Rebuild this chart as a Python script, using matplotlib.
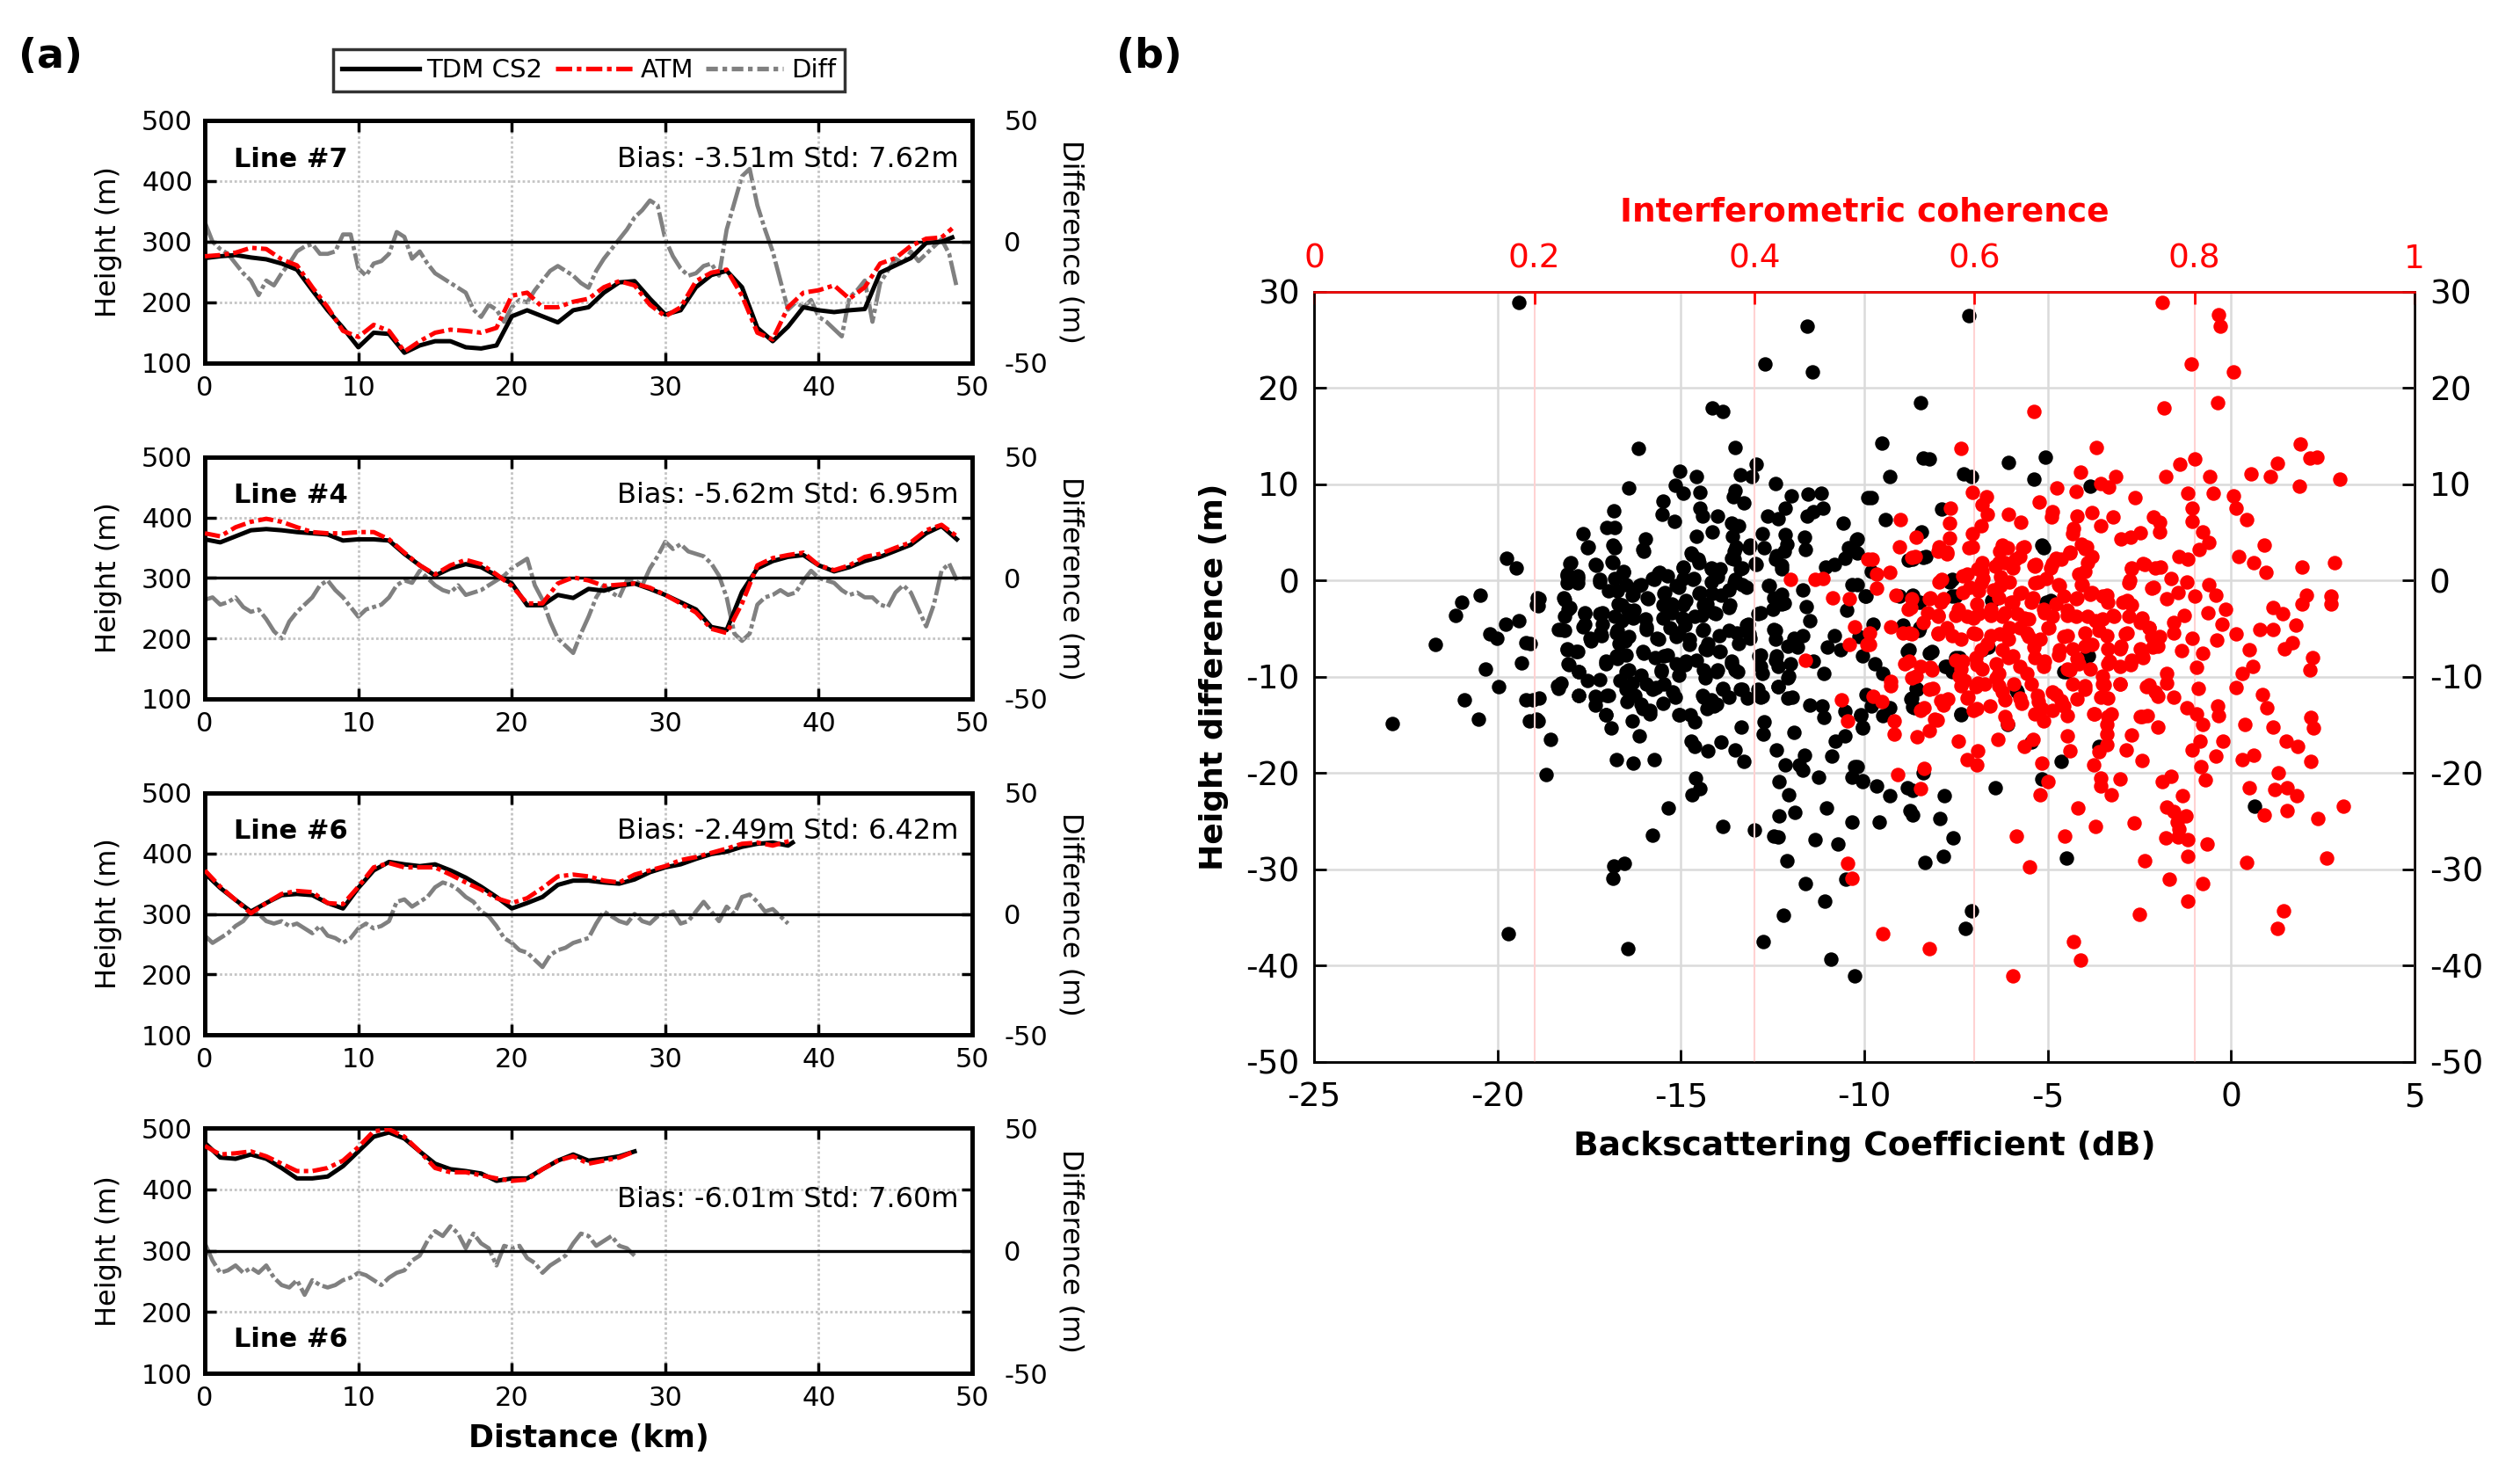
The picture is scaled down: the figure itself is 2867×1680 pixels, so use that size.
import matplotlib
matplotlib.use('Agg')
import matplotlib.pyplot as plt
from matplotlib.lines import Line2D

plt.rcParams['font.family'] = ['DejaVu Sans']
plt.rcParams['axes.unicode_minus'] = False

# ---------------- Panel (a) data ----------------
dist_ticks = [0, 10, 20, 30, 40, 50]
height_ticks = [100, 200, 300, 400, 500]
diff_ticks = [-50, 0, 50]
line_names = ['Line #7', 'Line #4', 'Line #6', 'Line #6']
stat_texts = ['Bias: -3.51m Std: 7.62m', 'Bias: -5.62m Std: 6.95m',
              'Bias: -2.49m Std: 6.42m', 'Bias: -6.01m Std: 7.60m']

# Line #7
h7_dist = list(range(49)) + [48.7]
h7_tdm = [273, 276, 278, 274, 271, 264, 254, 220, 187, 158, 126, 150, 148, 117, 129, 136, 136, 126, 124, 129,
          177, 187, 177, 167, 187, 192, 216, 233, 235, 206, 180, 187, 225, 245, 252, 225, 158, 136, 160, 192,
          187, 184, 187, 189, 249, 261, 273, 298, 300, 307]
h7_atm = [276, 278, 282, 290, 288, 271, 261, 225, 192, 153, 143, 163, 153, 119, 136, 150, 155, 153, 150, 158,
          211, 216, 192, 192, 201, 206, 225, 235, 228, 196, 177, 192, 235, 249, 254, 211, 150, 139, 192, 216,
          220, 228, 206, 225, 264, 273, 293, 305, 307, 322]
d7_dist = [i * 0.5 for i in range(99)]
d7_diff = [8, 0, -3, -5, -9, -13, -16, -22, -16, -18, -13, -9, -4, -2, -1, -5, -5, -4, 3, 3,
           -11, -14, -9, -8, -5, 4, 2, -7, -4, -9, -13, -15, -17, -19, -21, -28, -31, -26, -28, -33,
           -27, -24, -25, -20, -16, -12, -10, -12, -14, -17, -19, -12, -7, -3, 1, 5, 10, 13, 17, 15,
           1, -6, -11, -14, -13, -10, -9, -14, 5, 16, 27, 30, 15, 5, -4, -16, -28, -25, -27, -24,
           -31, -33, -36, -39, -23, -20, -16, -33, -17, -12, -7, -9, -4, -8, -5, -2, 1, -5, -19]

# Line #4
h4_dist = list(range(50))
h4_tdm = [364, 359, 369, 379, 381, 379, 376, 374, 372, 362, 364, 364, 362, 340, 321, 304, 316, 323, 318, 304,
          291, 255, 255, 272, 267, 282, 279, 287, 291, 282, 272, 260, 248, 219, 214, 277, 316, 328, 335, 338,
          321, 311, 318, 328, 335, 345, 355, 374, 386, 364]
h4_atm = [374, 369, 384, 393, 398, 393, 384, 376, 374, 374, 376, 376, 364, 342, 321, 306, 321, 330, 323, 306,
          287, 258, 258, 291, 301, 296, 287, 289, 291, 284, 272, 258, 243, 216, 209, 258, 321, 333, 338, 342,
          321, 313, 321, 335, 340, 350, 359, 379, 388, 369]
d4_dist = [i * 0.5 for i in range(99)]
d4_diff = [-9, -8, -11, -10, -8, -12, -14, -13, -17, -22, -25, -18, -14, -11, -8, -3, -1, -5, -8, -12,
           -16, -13, -12, -11, -8, -3, -1, -2, 3, 0, -3, -5, -6, -3, -7, -6, -5, -3, -1, 1,
           4, 6, 8, -3, -9, -18, -25, -28, -31, -23, -16, -8, -3, -6, -8, -1, -1, -3, 4, 9,
           15, 12, 14, 11, 10, 9, 6, 1, -8, -23, -26, -23, -11, -8, -7, -5, -7, -6, -1, 3,
           0, -1, -2, -5, -7, -6, -8, -8, -11, -12, -6, -3, -6, -13, -20, -11, 3, 6, -1]

# Line #6 (third panel)
h6_dist = list(range(39)) + [38.3]
h6_tdm = [367, 343, 323, 304, 318, 331, 333, 331, 318, 309, 343, 372, 386, 382, 379, 382, 372, 360, 345, 328,
          309, 318, 328, 348, 355, 355, 352, 350, 357, 369, 377, 382, 391, 399, 403, 411, 416, 418, 413, 418]
h6_atm = [372, 345, 323, 301, 318, 333, 338, 336, 318, 316, 345, 377, 384, 377, 377, 377, 365, 352, 340, 326,
          318, 326, 343, 362, 365, 362, 355, 352, 365, 372, 379, 389, 394, 401, 408, 416, 418, 413, 420, 422]
d6_dist = [i * 0.5 for i in range(77)]
d6_diff = [-9, -12, -10, -8, -5, -3, 1, 0, -3, -4, -3, -5, -4, -6, -8, -5, -9, -10, -12, -10,
           -6, -4, -6, -5, -3, 5, 6, 3, 5, 7, 11, 13, 12, 10, 7, 5, 1, -1, -5, -10,
           -12, -15, -16, -19, -22, -17, -15, -14, -12, -11, -10, -4, 1, -1, -3, -4, 0, -3, -4, -1,
           0, 1, -4, -3, 1, 5, 1, -3, 3, 0, 7, 8, 5, 1, 2, -1, -4]

# Line #6 (fourth panel)
h6b_dist = list(range(29))
h6b_tdm = [476, 452, 450, 457, 450, 435, 418, 418, 421, 438, 462, 486, 493, 483, 462, 442, 433, 430, 426, 414,
           418, 418, 433, 447, 457, 447, 450, 454, 462]
h6b_atm = [471, 457, 459, 462, 454, 442, 430, 430, 435, 447, 469, 495, 498, 486, 462, 435, 428, 428, 423, 418,
           414, 416, 433, 447, 454, 442, 447, 452, 462]
d6b_dist = [i * 0.5 for i in range(57)]
d6b_diff = [3, -4, -9, -8, -6, -9, -7, -9, -6, -11, -14, -15, -12, -18, -12, -14, -15, -14, -12, -11,
            -9, -10, -12, -14, -11, -9, -8, -4, -2, 4, 8, 6, 10, 7, 1, 7, 3, 1, -6, 2,
            1, 2, -3, -5, -9, -6, -4, -2, 3, 7, 6, 2, 4, 6, 2, 1, -2]

# ---------------- Panel (b) data ----------------
bs_ticks = [-25, -20, -15, -10, -5, 0, 5]
dh_ticks = [-50, -40, -30, -20, -10, 0, 10, 20, 30]
coh_ticks = [0, 0.2, 0.4, 0.6, 0.8, 1.0]
coh_labels = ['0', '0.2', '0.4', '0.6', '0.8', '1']

# black: (backscattering dB, height difference m)
black_a = [(-19.42, 28.9), (-11.56, 26.4), (-12.72, 22.5), (-11.41, 21.7), (-14.15, 17.9), (-13.86, 17.6),
           (-16.17, 13.7), (-13.52, 13.8), (-12.94, 12.1), (-15.04, 11.4), (-14.57, 10.8), (-13.38, 11.0),
           (-13.07, 10.8), (-12.43, 10.1), (-16.42, 9.6), (-15.15, 9.9), (-14.94, 9.1), (-14.49, 9.2),
           (-13.52, 9.4), (-13.57, 8.7), (-13.28, 8.1), (-12.0, 8.8), (-11.54, 9.0), (-11.17, 9.1),
           (-15.5, 8.3), (-16.83, 7.3), (-15.51, 6.9), (-15.18, 6.2), (-14.49, 7.5), (-14.42, 6.7),
           (-14.0, 6.7), (-13.61, 6.0), (-13.42, 5.7), (-12.63, 6.7), (-12.36, 6.4), (-12.17, 7.5),
           (-11.56, 6.7), (-11.39, 7.2), (-11.12, 7.5), (-10.57, 6.0), (-9.9, 8.6), (-17.68, 4.9),
           (-17.02, 5.5), (-16.81, 5.5), (-17.53, 3.5), (-16.85, 3.7), (-15.97, 4.3), (-16.03, 3.2),
           (-14.58, 4.6), (-14.15, 5.1), (-13.59, 4.6), (-13.49, 3.5), (-13.13, 3.7), (-12.79, 4.9),
           (-12.17, 4.8), (-12.12, 3.8), (-11.63, 4.5), (-11.61, 3.2), (-10.23, 4.2), (-10.43, 3.4),
           (-19.76, 2.3), (-19.49, 1.3), (-18.0, 1.9), (-17.33, 1.7), (-16.89, 2.0), (-18.11, 0.7),
           (-17.82, 0.2), (-17.21, 0.1), (-16.57, 1.0), (-15.6, 0.8), (-14.94, 1.4), (-14.73, 2.9),
           (-14.54, 2.2), (-14.17, 1.3), (-13.62, 2.3), (-13.33, 1.3), (-12.94, 1.7), (-12.41, 2.6),
           (-12.26, 1.6), (-11.05, 1.4), (-10.81, 1.7), (-10.52, 2.3), (-20.48, -1.5), (-20.97, -2.2),
           (-21.14, -3.6), (-21.69, -6.6), (-20.21, -5.5), (-20.02, -6.0), (-19.78, -4.5), (-19.42, -4.2),
           (-19.23, -6.4), (-20.32, -9.2), (-19.35, -8.5), (-18.91, -1.8), (-18.94, -2.5), (-18.21, -1.8),
           (-18.07, -3.0), (-18.26, -5.1), (-17.63, -3.3), (-17.68, -4.8), (-17.15, -3.3), (-17.2, -5.4),
           (-17.49, -6.0), (-18.11, -7.1), (-17.82, -7.4), (-18.07, -8.6), (-17.78, -9.5), (-17.05, -8.4),
           (-16.71, -2.4), (-16.62, -4.2), (-16.76, -5.4), (-16.28, -3.1), (-16.13, -0.5), (-15.92, -1.8),
           (-16.32, -1.5), (-15.94, -4.8), (-16.52, -6.3), (-16.03, -7.4), (-16.76, -7.8), (-16.42, -9.3),
           (-15.74, 0.1), (-15.45, -1.2), (-15.26, -2.4), (-15.5, -3.9), (-15.65, -6.0), (-15.36, -7.7),
           (-15.55, -9.3), (-15.12, -0.5), (-14.87, -2.1), (-14.97, -3.9), (-15.07, -5.4), (-14.78, -6.6),
           (-14.87, -8.4), (-14.68, 0.1), (-14.49, -1.2), (-14.29, -2.4), (-14.44, -3.6), (-14.39, -5.1),
           (-14.29, -7.2), (-14.39, -9.3), (-14.0, 0.4), (-13.91, -1.5), (-14.1, -3.3), (-13.96, -5.7),
           (-13.96, -7.4), (-14.0, -9.3), (-13.52, 0.1), (-13.33, -0.4), (-13.67, -2.5), (-13.47, -5.4),
           (-13.13, -6.0), (-13.62, -8.4), (-13.52, -9.3), (-12.84, -3.3), (-13.17, -4.5), (-12.88, -7.8),
           (-12.79, -9.6), (-12.6, -0.5), (-12.46, -1.8), (-12.26, -2.4), (-12.46, -5.1), (-12.41, -7.8),
           (-12.07, -9.9), (-11.92, -6.0), (-11.82, -6.9), (-11.59, -2.7), (-11.49, -4.2), (-11.68, -5.7),
           (-11.39, -8.4), (-11.1, -9.6), (-11.68, -1.0), (-10.33, -0.4), (-10.48, -3.1), (-10.81, -5.7),
           (-10.66, -7.2), (-11.0, -6.9), (-9.99, -1.6)]
black_b = [(-7.16, 27.5), (-8.47, 18.5), (-9.53, 14.3), (-8.41, 12.7), (-8.24, 12.6), (-9.32, 10.8), (-7.3, 11.1),
           (-7.07, 10.8), (-6.07, 12.3), (-5.07, 12.8), (-5.39, 10.5), (-9.8, 8.6), (-3.85, 9.8), (-7.9, 7.4),
           (-9.43, 6.3), (-8.44, 5.1), (-10.2, 4.3), (-10.2, 2.9), (-5.17, 3.7), (-8.68, 2.2), (-8.32, 2.5),
           (-9.8, 1.0), (-7.61, 0.1), (-10.2, -0.4), (-9.95, -1.6), (-8.68, -1.5), (-8.49, -2.2), (-7.51, -1.6),
           (-6.54, -2.1), (-4.93, -2.1), (-9.76, -4.5), (-8.49, -4.9), (-10.15, -5.8), (-10.05, -7.8),
           (-9.71, -8.6), (-8.78, -7.2), (-8.17, -7.4), (-7.41, -8.0), (-7.76, -8.9), (-6.63, -6.9),
           (-9.51, -9.6), (-4.49, -9.5), (-3.9, -7.8)]
black_c = [(-22.88, -14.8), (-20.91, -12.4), (-20.52, -14.4), (-19.98, -11.0), (-19.23, -12.4), (-19.03, -12.4),
           (-19.13, -14.6), (-18.89, -14.6), (-18.55, -16.5), (-18.68, -20.1), (-18.36, -10.9), (-17.78, -11.9),
           (-17.34, -12.0), (-17.34, -12.9), (-17.02, -11.9), (-17.04, -13.9), (-16.91, -15.3), (-16.76, -18.6),
           (-16.3, -19.0), (-15.73, -18.6), (-16.47, -12.6), (-16.32, -14.6), (-16.13, -16.1), (-16.03, -13.3),
           (-15.84, -13.8), (-15.69, -11.1), (-15.5, -12.7), (-15.16, -12.1), (-15.04, -13.9), (-14.63, -14.7),
           (-14.73, -16.7), (-14.63, -17.2), (-14.27, -17.7), (-13.91, -16.8), (-13.52, -17.6), (-13.28, -18.8),
           (-13.35, -15.2), (-12.75, -15.9), (-12.73, -14.7), (-12.41, -17.6), (-12.17, -19.1), (-11.92, -15.8),
           (-11.78, -19.1), (-11.63, -18.1), (-11.68, -19.7), (-11.25, -20.4), (-10.89, -18.2), (-10.79, -16.7),
           (-10.52, -16.1), (-11.1, -14.2), (-11.49, -12.9), (-11.15, -13.0), (-14.29, -13.3), (-14.39, -12.1),
           (-14.1, -13.0), (-13.86, -11.2), (-13.33, -11.3), (-13.18, -12.2), (-12.79, -12.0), (-11.97, -12.1),
           (-12.36, -11.0), (-14.6, -20.5), (-14.49, -21.6), (-14.7, -22.2), (-15.34, -23.6), (-15.77, -26.4),
           (-16.83, -29.6), (-16.54, -29.4), (-16.86, -30.9), (-19.7, -36.7), (-16.44, -38.2), (-12.33, -20.9),
           (-12.07, -22.2), (-12.33, -24.4), (-11.9, -24.1), (-13.85, -25.5), (-12.99, -25.9), (-12.46, -26.5),
           (-12.34, -26.6), (-11.34, -26.9), (-10.73, -27.4), (-11.03, -23.6), (-10.35, -25.1), (-12.12, -29.1),
           (-11.62, -31.5), (-11.07, -33.3), (-12.21, -34.8), (-12.77, -37.5), (-10.91, -39.3), (-10.26, -41.1),
           (-10.5, -31.0), (-10.26, -19.3), (-10.33, -20.4), (-10.06, -20.9), (-10.09, -13.9), (-10.04, -15.3),
           (-10.54, -13.6)]
black_d = [(-10.1, -14.0), (-10.05, -15.2), (-9.8, -13.0), (-9.51, -14.0), (-9.32, -13.2), (-9.95, -11.8),
           (-8.73, -12.3), (-8.63, -13.2), (-8.59, -11.2), (-7.37, -13.8), (-6.1, -14.9), (-5.46, -16.8),
           (-4.63, -18.8), (-3.61, -17.2), (-10.2, -19.3), (-10.05, -20.8), (-9.68, -21.3), (-9.3, -22.3),
           (-8.83, -21.5), (-8.68, -21.8), (-8.39, -20.0), (-7.82, -22.3), (-8.76, -23.9), (-8.68, -24.3),
           (-7.95, -24.7), (-9.59, -25.1), (-7.58, -26.7), (-7.85, -28.6), (-8.34, -29.3), (-6.44, -21.5),
           (-5.17, -20.6), (-4.49, -28.8), (-7.07, -34.3), (-7.24, -36.1), (0.63, -23.4), (-5.85, -11.4)]
black_e = [(-17.54, 3.4), (-16.82, 3.4), (-16.02, 3.1), (-14.7, 2.7), (-14.5, 1.9), (-13.54, 3.1), (-13.14, 3.4),
           (-12.74, 3.4), (-12.18, 3.1), (-18.02, 1.8), (-17.3, 1.6), (-16.86, 1.9), (-16.58, 0.9), (-18.1, 0.5),
           (-17.82, 0.5), (-18.1, -0.2), (-17.82, -0.2), (-17.22, -0.1), (-16.82, 0.2), (-16.5, -0.4),
           (-16.1, -0.4), (-15.78, 0.2), (-15.58, 0.9), (-15.38, 0.5), (-14.94, 1.3), (-14.94, 0.2),
           (-14.66, 0.2), (-14.18, 1.2), (-13.94, 1.2), (-13.54, 2.2), (-13.38, 1.2), (-14.18, -0.1),
           (-13.54, -0.2), (-13.22, -0.7), (-12.98, 1.8), (-12.42, 2.2), (-12.26, 1.2), (-12.62, -0.5),
           (-18.86, -1.9), (-18.9, -2.6), (-16.98, -1.1), (-16.74, -1.1), (-16.3, -1.4), (-15.9, -1.9),
           (-15.46, -1.3), (-15.06, -0.7), (-14.5, -1.3), (-14.14, -1.3), (-13.7, -1.0), (-12.26, -1.4),
           (-18.18, -2.0), (-18.02, -2.8), (-18.18, -3.7), (-17.62, -3.4), (-17.22, -3.4), (-17.62, -4.5),
           (-17.14, -4.5), (-16.62, -2.5), (-16.82, -3.7), (-16.46, -3.1), (-16.3, -3.9), (-15.98, -4.0),
           (-15.5, -2.5), (-15.26, -3.3), (-14.94, -2.5), (-14.62, -3.7), (-14.38, -2.5), (-14.06, -3.4),
           (-13.7, -2.8), (-12.9, -3.4), (-12.5, -3.0), (-12.18, -2.3), (-18.34, -5.1), (-18.18, -5.2),
           (-17.46, -6.3), (-17.18, -5.7), (-16.74, -5.2), (-16.7, -6.5), (-16.42, -5.8), (-15.94, -5.1),
           (-15.62, -6.1), (-15.3, -4.9), (-15.14, -5.8), (-14.9, -4.6), (-14.78, -6.1), (-14.42, -5.2),
           (-14.26, -6.5), (-13.7, -5.2), (-13.42, -6.5), (-13.14, -5.5), (-13.22, -4.6), (-12.42, -5.2),
           (-12.42, -6.1), (-12.1, -6.8), (-19.1, -6.5), (-18.1, -7.2), (-17.86, -7.4), (-18.06, -8.7),
           (-17.06, -8.6), (-16.74, -8.1), (-16.5, -7.7), (-16.02, -7.5), (-15.7, -8.0), (-15.46, -7.8),
           (-15.14, -8.6), (-14.9, -8.7), (-14.58, -8.3), (-14.34, -7.1), (-13.94, -7.4), (-13.62, -8.6),
           (-14.02, -9.5), (-13.46, -9.5), (-12.82, -7.7), (-12.82, -8.9), (-12.42, -8.3), (-12.34, -8.9),
           (-12.02, -8.6), (-17.78, -9.5), (-18.26, -10.6), (-18.34, -11.2), (-17.54, -10.4), (-17.22, -10.3),
           (-16.5, -9.5), (-16.66, -10.4), (-16.34, -10.6), (-16.1, -9.8), (-15.94, -10.7), (-16.5, -11.3),
           (-16.26, -11.9), (-15.54, -9.5), (-15.46, -10.7), (-15.78, -11.3), (-15.22, -11.6), (-15.06, -9.8),
           (-14.34, -10.1), (-14.42, -11.9), (-14.18, -12.4), (-13.86, -11.3), (-13.7, -12.1), (-13.38, -11.3),
           (-12.9, -11.3), (-12.82, -12.1), (-12.34, -11.0), (-12.1, -10.1), (-12.1, -12.2), (-17.78, -11.9),
           (-17.3, -12.2), (-16.98, -11.9), (-18.86, -12.2), (-17.06, -13.9), (-16.1, -12.8), (-15.86, -13.5),
           (-15.06, -13.9), (-14.74, -13.9), (-14.02, -12.8), (-18.94, -14.4)]
black_f = [(-8.8, 2.1), (-8.4, 2.4), (-7.68, -0.1), (-7.6, -1.6), (-9.04, -1.6), (-8.64, -2.0), (-8.96, -4.6),
           (-8.52, -5.2), (-6.48, -2.0), (-8.84, -7.4), (-8.24, -7.5), (-7.8, -8.9), (-7.6, -9.5), (-6.8, -7.2),
           (-7.52, -8.0), (-5.04, -2.2), (-4.56, -9.5), (-4.0, -8.0), (-8.72, -12.2), (-8.56, -11.3),
           (-8.68, -13.1), (-7.36, -13.9), (-5.84, -11.6), (-5.12, 3.4)]

# red: (interferometric coherence, height difference m)
red_a = [(0.433, 0.1), (0.455, 0.1), (0.462, 0.2), (0.471, -1.8), (0.486, -1.9), (0.491, -4.8), (0.486, -6.6),
         (0.446, -8.3), (0.503, 2.2), (0.502, -6.6), (0.479, -12.4), (0.485, -14.6), (0.485, -29.4), (0.489, -30.9)]
red_b = [(0.771, 28.9), (0.822, 27.6), (0.823, 26.4), (0.797, 22.5), (0.835, 21.7), (0.654, 17.6), (0.772, 17.9),
         (0.821, 18.5), (0.588, 13.7), (0.711, 13.8), (0.896, 14.2), (0.905, 12.7), (0.911, 12.8), (0.932, 10.5),
         (0.875, 12.2), (0.869, 10.8), (0.851, 11.1), (0.814, 10.8), (0.800, 12.6), (0.787, 12.1), (0.774, 10.8),
         (0.895, 9.8), (0.696, 11.3), (0.728, 10.8), (0.715, 10.1), (0.722, 9.7), (0.675, 9.6), (0.692, 9.3),
         (0.598, 9.2), (0.611, 8.7), (0.659, 8.2), (0.746, 8.6), (0.794, 9.1), (0.817, 9.1), (0.835, 8.8),
         (0.578, 7.5), (0.607, 7.9), (0.612, 6.9), (0.631, 6.9), (0.671, 7.2), (0.707, 7.1), (0.693, 6.7),
         (0.726, 6.6), (0.763, 6.6), (0.798, 7.5), (0.838, 7.5), (0.533, 6.3), (0.577, 6.0), (0.642, 6.1),
         (0.670, 6.6), (0.715, 5.7), (0.768, 6.1), (0.798, 6.2), (0.847, 6.3), (0.598, 4.9), (0.606, 5.7),
         (0.689, 4.9), (0.690, 5.4), (0.733, 4.3), (0.742, 4.5), (0.751, 5.0), (0.768, 5.1), (0.807, 5.1),
         (0.547, 4.5), (0.532, 3.5), (0.577, 4.4), (0.568, 3.5), (0.575, 3.0), (0.598, 3.5), (0.625, 3.7),
         (0.630, 3.4), (0.645, 3.5), (0.697, 3.8), (0.702, 3.5), (0.813, 4.0), (0.804, 3.2), (0.863, 3.7),
         (0.507, 2.2), (0.546, 2.5), (0.607, 1.9), (0.622, 1.9), (0.641, 2.5), (0.656, 1.7), (0.674, 2.3),
         (0.687, 2.9), (0.707, 2.5), (0.786, 2.5), (0.794, 2.2), (0.840, 2.5), (0.854, 1.9), (0.927, 1.9),
         (0.898, 1.4), (0.865, 0.9), (0.523, 0.9), (0.511, 0.7), (0.593, 0.7), (0.607, 1.0), (0.635, 1.3),
         (0.654, 1.6), (0.669, 1.3), (0.700, 1.0), (0.743, 1.3), (0.755, 1.7), (0.769, 1.4), (0.570, 0.1),
         (0.606, -0.2), (0.624, -0.5), (0.658, -0.1), (0.677, -0.5), (0.698, -0.4), (0.741, 0.0), (0.779, 0.2),
         (0.793, -0.1), (0.813, -0.4), (0.511, -0.8), (0.529, -1.5), (0.542, -2.8), (0.560, -1.8), (0.572, -1.9),
         (0.589, -1.2), (0.602, -2.4), (0.622, -1.8), (0.635, -2.2), (0.643, -1.2), (0.653, -1.8), (0.674, -2.4),
         (0.693, -1.8), (0.707, -1.2), (0.720, -1.5), (0.739, -2.1), (0.763, -0.7), (0.775, -1.9), (0.785, -1.2),
         (0.800, -1.6), (0.819, -1.5), (0.902, -1.5), (0.898, -2.4), (0.924, -1.6), (0.924, -2.4), (0.871, -2.8),
         (0.880, -3.4), (0.828, -3.0), (0.812, -3.3), (0.791, -3.6), (0.781, -4.3), (0.752, -3.9), (0.726, -3.6),
         (0.710, -4.2), (0.684, -3.6), (0.664, -3.3), (0.645, -3.9), (0.628, -3.3), (0.615, -3.6), (0.599, -3.9),
         (0.583, -3.6), (0.567, -3.6), (0.524, -4.8), (0.541, -5.4), (0.505, -5.4), (0.505, -6.6), (0.892, -4.6),
         (0.871, -5.1), (0.859, -5.1), (0.838, -5.5), (0.825, -4.5), (0.820, -6.2), (0.798, -6.0), (0.781, -5.4),
         (0.768, -5.8), (0.759, -4.9), (0.739, -5.4), (0.720, -5.7), (0.700, -5.4), (0.684, -5.7), (0.667, -4.9),
         (0.648, -5.4), (0.632, -4.9), (0.615, -5.7), (0.599, -5.4), (0.580, -5.7), (0.567, -5.4), (0.889, -6.4),
         (0.882, -7.1), (0.907, -8.0), (0.905, -9.3), (0.850, -7.2), (0.853, -8.9), (0.843, -9.6), (0.807, -7.5),
         (0.802, -9.0), (0.788, -7.3), (0.775, -9.6), (0.762, -6.9), (0.752, -7.8), (0.742, -8.7), (0.733, -6.8),
         (0.723, -8.4), (0.716, -9.9), (0.707, -6.6), (0.693, -8.1), (0.687, -9.3), (0.677, -7.2), (0.664, -8.4),
         (0.654, -6.9), (0.648, -9.6), (0.635, -7.8), (0.625, -7.2), (0.622, -9.6), (0.606, -7.2), (0.602, -8.7),
         (0.589, -8.4), (0.586, -9.9), (0.560, -9.0), (0.541, -8.4), (0.547, -9.9), (0.524, -10.5)]
red_c = [(0.524, -10.9), (0.508, -12.0), (0.516, -12.6), (0.527, -14.6), (0.527, -15.9), (0.548, -16.2),
         (0.554, -13.2), (0.559, -15.6), (0.566, -14.5), (0.572, -12.9), (0.576, -12.3), (0.562, -11.2),
         (0.585, -16.7), (0.593, -18.6), (0.603, -17.7), (0.602, -19.1), (0.588, -10.9), (0.594, -12.1),
         (0.602, -13.3), (0.614, -13.0), (0.603, -10.6), (0.622, -10.9), (0.628, -12.4), (0.621, -16.5),
         (0.630, -14.8), (0.643, -12.7), (0.645, -17.2), (0.653, -16.5), (0.658, -12.6), (0.661, -13.3),
         (0.663, -14.6), (0.661, -19.0), (0.667, -20.9), (0.660, -22.2), (0.638, -26.5), (0.650, -29.7),
         (0.635, -41.1), (0.674, -11.8), (0.681, -13.0), (0.684, -14.0), (0.684, -16.1), (0.687, -17.7),
         (0.693, -12.3), (0.700, -10.9), (0.682, -26.5), (0.694, -23.6), (0.690, -37.5), (0.696, -39.4),
         (0.708, -19.1), (0.709, -13.8), (0.715, -12.1), (0.718, -10.8), (0.720, -14.9), (0.724, -13.8),
         (0.720, -15.9), (0.720, -17.0), (0.713, -17.8), (0.715, -20.5), (0.715, -21.3), (0.724, -22.2),
         (0.732, -20.6), (0.710, -25.5), (0.732, -10.7), (0.738, -17.6), (0.743, -16.0), (0.752, -18.7),
         (0.752, -14.1), (0.757, -14.0), (0.767, -15.2), (0.759, -10.8), (0.767, -12.0), (0.745, -25.2),
         (0.755, -29.1), (0.750, -34.7), (0.771, -20.9), (0.779, -20.3), (0.775, -23.5), (0.781, -24.0),
         (0.784, -25.1), (0.786, -25.8), (0.785, -26.6), (0.774, -26.7), (0.789, -22.3), (0.792, -24.4),
         (0.794, -26.9), (0.794, -28.6), (0.777, -31.0), (0.794, -33.3), (0.807, -31.5), (0.811, -27.4),
         (0.775, -10.6), (0.781, -12.1), (0.793, -13.2), (0.803, -11.2), (0.802, -13.8), (0.807, -14.9),
         (0.805, -16.7), (0.798, -17.6), (0.806, -19.3), (0.810, -20.7), (0.821, -13.0), (0.822, -14.0),
         (0.826, -16.7), (0.819, -18.2), (0.838, -11.1), (0.846, -14.9), (0.843, -18.6), (0.854, -18.1),
         (0.850, -21.5), (0.863, -24.3), (0.847, -29.3), (0.862, -11.8), (0.866, -13.2), (0.871, -15.2),
         (0.883, -16.7), (0.894, -17.2), (0.876, -20.0), (0.873, -21.7), (0.884, -21.5), (0.893, -22.3),
         (0.884, -23.9), (0.875, -36.1), (0.881, -34.3), (0.906, -14.2), (0.908, -15.3), (0.906, -18.8),
         (0.912, -24.7), (0.920, -28.8), (0.935, -23.4), (0.517, -36.7), (0.559, -38.2), (0.530, -20.1),
         (0.554, -19.5), (0.551, -21.6)]
red_d = [(0.567, 3.1), (0.575, 2.8), (0.595, 3.4), (0.623, 3.1), (0.644, 3.4), (0.628, 1.9), (0.637, 2.2),
         (0.655, 1.5), (0.671, 1.8), (0.679, 2.2), (0.687, 3.0), (0.700, 3.3), (0.703, 1.9), (0.695, 0.7),
         (0.743, 1.2), (0.753, 1.8), (0.764, 1.3), (0.543, 2.4), (0.589, 0.5), (0.603, 1.2), (0.608, 0.2),
         (0.619, 1.5), (0.624, 0.4), (0.632, -0.1), (0.655, -0.2), (0.665, 0.2), (0.676, -0.4), (0.697, -0.4),
         (0.740, -0.2), (0.761, -0.8), (0.568, -0.1), (0.596, -0.7), (0.604, -1.1), (0.617, -1.0), (0.641, -1.3),
         (0.633, -2.2), (0.652, -2.2), (0.681, -1.6), (0.692, -1.9), (0.705, -1.4), (0.716, -1.6), (0.721, -2.2),
         (0.735, -2.2), (0.743, -2.5), (0.543, -1.9), (0.559, -1.9), (0.569, -2.2), (0.540, -3.0), (0.557, -3.3),
         (0.567, -3.7), (0.585, -3.0), (0.593, -3.7), (0.604, -3.4), (0.615, -3.0), (0.625, -3.7), (0.639, -3.4),
         (0.649, -4.0), (0.663, -3.0), (0.671, -3.7), (0.684, -3.1), (0.692, -3.7), (0.703, -3.7), (0.716, -4.0),
         (0.727, -3.7), (0.740, -3.7), (0.751, -4.3), (0.759, -4.9), (0.535, -5.4), (0.543, -5.5), (0.553, -4.3),
         (0.567, -5.5), (0.575, -4.9), (0.588, -6.1), (0.601, -5.5), (0.612, -6.5), (0.623, -5.5), (0.631, -6.1),
         (0.641, -4.9), (0.649, -5.8), (0.660, -6.1), (0.668, -4.9), (0.681, -5.8), (0.689, -7.1), (0.700, -6.8),
         (0.713, -5.2), (0.721, -7.1), (0.732, -7.1), (0.737, -5.5), (0.751, -7.1), (0.761, -5.8), (0.767, -6.8),
         (0.537, -8.6), (0.551, -8.9), (0.561, -9.3), (0.583, -8.3), (0.588, -9.2), (0.601, -8.0), (0.607, -9.2),
         (0.620, -8.6), (0.631, -8.0), (0.641, -8.9), (0.655, -8.0), (0.663, -8.9), (0.676, -7.7), (0.684, -9.2),
         (0.695, -8.6), (0.705, -9.2), (0.721, -8.6), (0.732, -8.9), (0.743, -8.3), (0.753, -8.0), (0.543, -10.1),
         (0.559, -11.3), (0.569, -12.5), (0.591, -10.4), (0.593, -12.2), (0.601, -11.0), (0.609, -10.7),
         (0.620, -10.1), (0.625, -11.6), (0.636, -10.7), (0.641, -12.2), (0.652, -10.7), (0.657, -11.9),
         (0.671, -11.6), (0.679, -12.5), (0.689, -10.7), (0.700, -11.3), (0.716, -10.7), (0.721, -12.2),
         (0.732, -10.7), (0.756, -11.0), (0.764, -11.6), (0.551, -13.5), (0.564, -14.4), (0.599, -13.5),
         (0.628, -14.1), (0.655, -13.8), (0.671, -13.5), (0.708, -13.8), (0.721, -14.1), (0.751, -14.1)]

# ---------------- Figure ----------------
fig = plt.figure(figsize=(28.67, 16.8), dpi=100)

panels = [
    (h7_dist, h7_tdm, h7_atm, d7_dist, d7_diff, (0.0813, 0.7542, 0.3045, 0.1643), 0.84, 0.84),
    (h4_dist, h4_tdm, h4_atm, d4_dist, d4_diff, (0.0813, 0.5268, 0.3045, 0.1637), 0.84, 0.84),
    (h6_dist, h6_tdm, h6_atm, d6_dist, d6_diff, (0.0813, 0.2994, 0.3045, 0.1637), 0.84, 0.84),
    (h6b_dist, h6b_tdm, h6b_atm, d6b_dist, d6b_diff, (0.0813, 0.0702, 0.3045, 0.1660), 0.14, 0.71),
]

atm_style = (0, (3.5, 1.0, 1.0, 1.0))
diff_style = (0, (6.0, 0.8, 1.0, 0.8))

for i, (hd, tdm, atm, dd, diff, rect, yname, ystat) in enumerate(panels):
    ax = fig.add_axes(rect)
    tw = ax.twinx()
    ax.set_zorder(tw.get_zorder() + 1)
    ax.patch.set_visible(False)
    tw.plot(dd, diff, color='#808080', lw=3.4, ls=diff_style)
    ax.axhline(300, color='black', lw=2.4, zorder=2)
    ax.plot(hd, tdm, color='black', lw=3.6, zorder=3)
    ax.plot(hd, atm, color='#ff0000', lw=3.6, ls=atm_style, zorder=4)
    ax.set_xlim(0, 50)
    ax.set_ylim(100, 500)
    tw.set_ylim(-50, 50)
    ax.set_xticks(dist_ticks)
    ax.set_yticks(height_ticks)
    tw.set_yticks(diff_ticks)
    ax.grid(True, color='#c4c4c4', ls=(0, (1, 1)), lw=2.0)
    ax.tick_params(direction='in', top=True, right=True, length=9, width=2.5,
                   labelsize=22, pad=10)
    tw.tick_params(length=0, labelsize=22, pad=26)
    for sp in list(ax.spines.values()) + list(tw.spines.values()):
        sp.set_linewidth(3.4)
    ax.set_ylabel('Height (m)', fontsize=23, labelpad=16)
    tw.set_ylabel('Difference (m)', fontsize=23, rotation=270, labelpad=30)
    ax.text(0.038, yname, line_names[i], transform=ax.transAxes, fontsize=22,
            fontweight='bold', ha='left', va='center', zorder=6)
    ax.text(0.982, ystat, stat_texts[i], transform=ax.transAxes, fontsize=23,
            ha='right', va='center', zorder=6)
    if i == 3:
        ax.set_xlabel('Distance (km)', fontsize=25, fontweight='bold', labelpad=10)

handles = [Line2D([], [], color='black', lw=3.8),
           Line2D([], [], color='#ff0000', lw=3.8, ls=atm_style),
           Line2D([], [], color='#808080', lw=3.8, ls=(0, (2.5, 1.0, 1.0, 1.0)))]
leg = fig.legend(handles, ['TDM CS2', 'ATM', 'Diff'], loc='center',
                 bbox_to_anchor=(0.2337, 0.9524), ncol=3, fontsize=21, frameon=True,
                 fancybox=False, edgecolor='black', handlelength=3.0, handletextpad=0.3,
                 columnspacing=0.5, borderpad=0.35)
leg.get_frame().set_linewidth(2.5)

fig.text(0.0202, 0.9619, '(a)', fontsize=33, fontweight='bold', ha='center', va='center')
fig.text(0.4559, 0.9619, '(b)', fontsize=33, fontweight='bold', ha='center', va='center')

# ---------------- Panel (b) ----------------
black_pts = black_a + black_b + black_c + black_d + black_e + black_f
red_pts = red_a + red_b + red_c + red_d
bx = [p[0] for p in black_pts]
by = [p[1] for p in black_pts]
rx = [p[0] for p in red_pts]
ry = [p[1] for p in red_pts]

axb = fig.add_axes([0.5215, 0.2810, 0.4367, 0.5214])
axb.scatter(bx, by, s=140, c='black', linewidths=0, zorder=3)
axb.set_xlim(-25, 5)
axb.set_ylim(-50, 30)
axb.set_xticks(bs_ticks)
axb.set_yticks(dh_ticks)
axb.grid(True, color='#dadada', lw=1.8)
axb.tick_params(direction='in', right=True, labelright=True, length=10, width=2,
                labelsize=27, pad=12)
axb.tick_params(axis='x', pad=16)
for sp in axb.spines.values():
    sp.set_linewidth(1.8)
axb.set_xlabel('Backscattering Coefficient (dB)', fontsize=27, fontweight='bold', labelpad=14)
axb.set_ylabel('Height difference (m)', fontsize=26, fontweight='bold', labelpad=14)

axt = axb.twiny()
axt.set_xlim(0, 1)
axt.set_xticks(coh_ticks)
axt.set_xticklabels(coh_labels)
axt.scatter(rx, ry, s=140, c='#ff0000', linewidths=0, zorder=3)
axt.grid(True, axis='x', color='#ffd2d2', lw=1.5)
axt.tick_params(axis='x', colors='#ff0000', direction='in', length=10, width=2,
                labelsize=27, pad=14)
for sp in axt.spines.values():
    sp.set_linewidth(1.8)
axt.spines['top'].set_color('#ff0000')
axt.set_xlabel('Interferometric coherence', color='#ff0000', fontsize=27,
               fontweight='bold', labelpad=18)

fig.savefig('out.png', dpi=100)
